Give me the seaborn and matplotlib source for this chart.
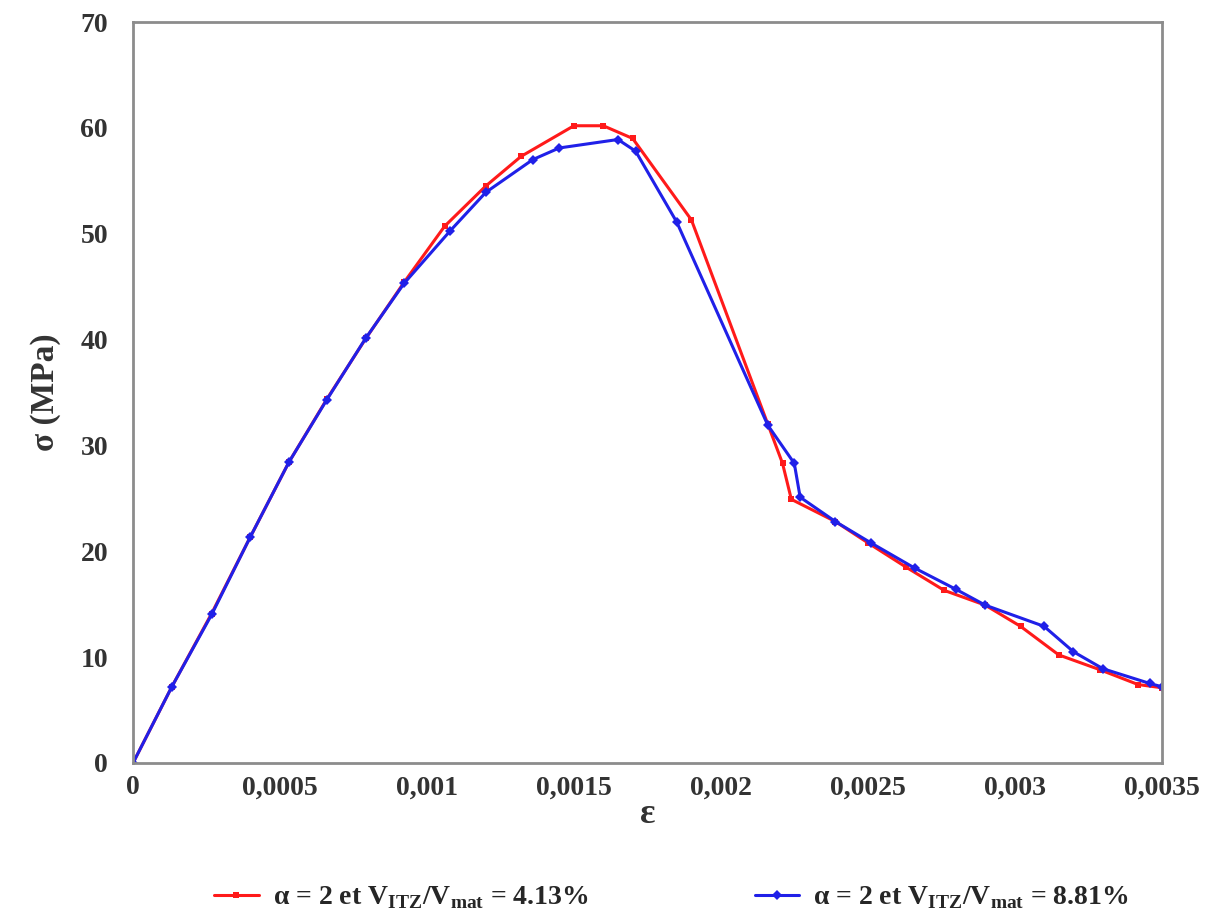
import pandas as pd
import numpy as np
import seaborn as sns
from matplotlib import pyplot as plt
from matplotlib.ticker import FuncFormatter

# Stress-strain curves, values

eps_red = [0, 0.000132, 0.000267, 0.000398, 0.00053, 0.00066, 0.000792, 0.000922,
           0.00106, 0.0012, 0.00132, 0.0015, 0.0016, 0.0017, 0.0019, 0.00216,
           0.00221, 0.00224, 0.00239, 0.0025, 0.00263, 0.00276, 0.0029, 0.00302,
           0.00315, 0.00329, 0.00342, 0.0035]
sig_red = [0, 7.2, 14.1, 21.3, 28.4, 34.4, 40.1, 45.4,
           50.7, 54.5, 57.3, 60.2, 60.2, 59.0, 51.3, 32.0,
           28.3, 24.9, 22.8, 20.8, 18.5, 16.3, 14.9, 12.9,
           10.2, 8.8, 7.4, 7.1]

eps_blue = [0, 0.000132, 0.000268, 0.000398, 0.00053, 0.000659, 0.000791, 0.000922,
            0.00108, 0.0012, 0.00136, 0.00145, 0.00165, 0.00171, 0.00185, 0.00216,
            0.00225, 0.00227, 0.00239, 0.00251, 0.00266, 0.0028, 0.0029, 0.0031,
            0.0032, 0.0033, 0.00346, 0.0035]
sig_blue = [0, 7.2, 14.05, 21.3, 28.4, 34.3, 40.1, 45.3,
            50.3, 53.9, 57.0, 58.1, 58.9, 57.8, 51.1, 31.9,
            28.3, 25.1, 22.8, 20.8, 18.4, 16.4, 14.9, 12.9,
            10.5, 8.9, 7.5, 7.2]

label_red = r'$\mathbf{\alpha}$ = 2 et V$_{\mathrm{ITZ}}$/V$_{\mathrm{mat}}$ = 4.13%'
label_blue = r'$\mathbf{\alpha}$ = 2 et V$_{\mathrm{ITZ}}$/V$_{\mathrm{mat}}$ = 8.81%'

red_df = pd.DataFrame({"eps": eps_red, "sig": sig_red})
blue_df = pd.DataFrame({"eps": eps_blue, "sig": sig_blue})

sns.set_style("white")
plt.rcParams['font.family'] = ['Liberation Serif', 'DejaVu Serif']
plt.rcParams['font.weight'] = 'bold'
plt.rcParams['mathtext.fontset'] = 'custom'
plt.rcParams['mathtext.rm'] = 'Liberation Serif:bold'
plt.rcParams['mathtext.bf'] = 'Liberation Serif:bold'

fig = plt.figure(figsize=(12.1, 9.18), dpi=100)
ax = fig.add_axes([0.110, 0.169, 0.850, 0.807])

sns.lineplot(data=red_df, x="eps", y="sig", sort=False, color="#ff1a1a",
             linewidth=2.2, marker="s", markersize=4, markeredgewidth=0,
             label=label_red, ax=ax)
sns.lineplot(data=blue_df, x="eps", y="sig", sort=False, color="#2020e8",
             linewidth=2.2, marker="D", markersize=5, markeredgewidth=0,
             label=label_blue, ax=ax)

ax.set_xlim(0, 0.0035)
ax.set_ylim(0, 70)
ax.set_xticks(np.arange(0, 0.0036, 0.0005))
ax.set_yticks(np.arange(0, 71, 10))

def comma_fmt(v, pos):
    if abs(v) < 1e-12:
        return "0"
    return ("%.4f" % v).rstrip("0").replace(".", ",")

ax.xaxis.set_major_formatter(FuncFormatter(comma_fmt))

for s in ax.spines.values():
    s.set_color("#8c8c8c")
    s.set_linewidth(2)

ax.tick_params(axis="both", direction="out", length=6, width=1.5, color="#8c8c8c",
               labelsize=20, labelcolor="#333333")
ax.tick_params(axis="x", pad=3)
ax.tick_params(axis="y", pad=12)
for lab in ax.get_xticklabels() + ax.get_yticklabels():
    lab.set_fontweight("bold")

ax.set_xlabel("ε", fontsize=26, fontweight="bold", color="#333333", labelpad=-2)
ax.set_ylabel("σ (MPa)", fontsize=24, fontweight="bold", color="#333333", labelpad=14)

ax.get_legend().remove()
handles, labels = ax.get_legend_handles_labels()
fig.legend(handles, labels, loc="lower center", ncol=2, frameon=False,
           fontsize=20, columnspacing=6, handlelength=1.6, handletextpad=0.5,
           bbox_to_anchor=(0.555, -0.02))

plt.savefig("out.png", dpi=100)
